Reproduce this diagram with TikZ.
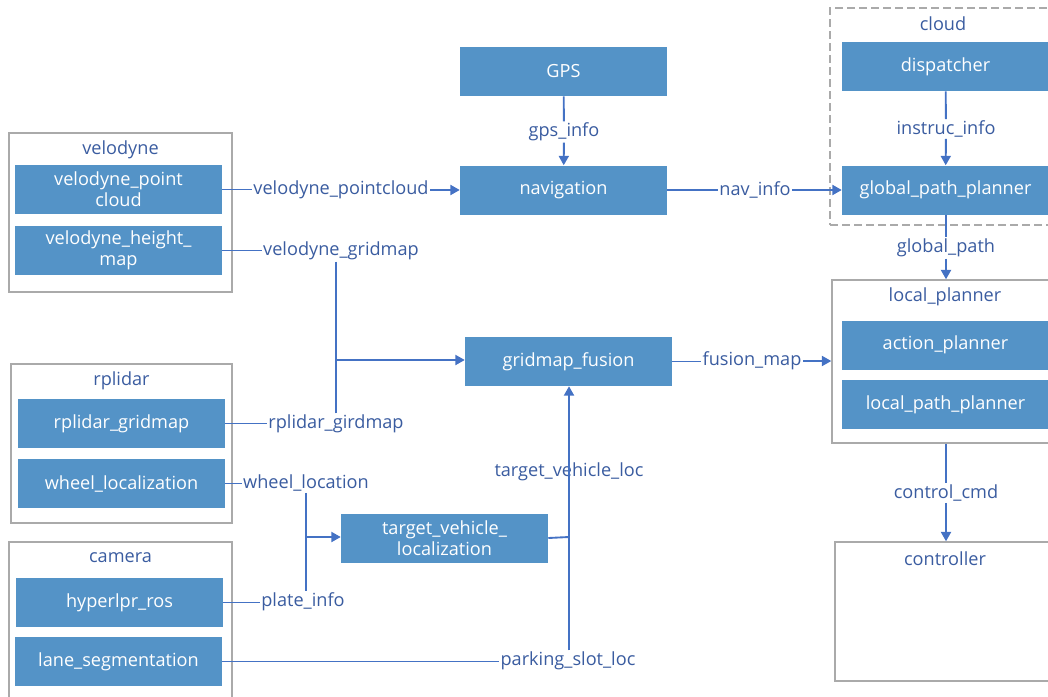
\documentclass[tikz,border=0pt]{standalone}
\usepackage{fontspec}
\setmainfont{Open Sans}
\usetikzlibrary{arrows.meta}
\definecolor{boxblue}{RGB}{84,147,199}
\definecolor{linkblue}{RGB}{68,114,196}
\definecolor{labelblue}{RGB}{58,92,160}
\definecolor{framegray}{RGB}{170,170,170}
\begin{document}
\begin{tikzpicture}[x=0.75pt,y=-0.75pt,
  txt/.style={font=\fontsize{13.6}{15}\selectfont},
  box/.style={txt, rectangle, fill=boxblue, text=white, align=center,
    minimum width=155.25pt, minimum height=36.75pt, inner sep=0pt},
  group/.style={rectangle, draw=framegray, line width=1.1pt, inner sep=0pt},
  title/.style={txt, text=labelblue, inner sep=1pt},
  lab/.style={txt, text=labelblue, fill=white, inner sep=1pt},
  link/.style={draw=linkblue, line width=1.4pt},
  arr/.style={link, -{Triangle[length=7pt,width=7.5pt]}}]
\useasboundingbox (0,0) rectangle (1048,696);
\clip (0,0) rectangle (1048,696);

% sensor groups
\node[group, minimum width=167.25pt, minimum height=119.25pt] (gvel) at (120.5,212.5) {};
\node[title] (tvel) at (120.5,150) {velodyne};
\node[group, minimum width=165.75pt, minimum height=119.25pt] (grp) at (121.5,443.5) {};
\node[title] (trp) at (121.5,381) {rplidar};
\node[group, minimum width=167.25pt, minimum height=121.5pt] (gcam) at (120.5,623) {};
\node[title] (tcam) at (120.5,558) {camera};

% planning groups
\node[group, dashed, dash pattern=on 6pt off 3pt, minimum width=171pt, minimum height=162.75pt] (gcloud) at (944,116.5) {};
\node[title] (tcloud) at (943,24) {cloud};
\node[group, minimum width=169.5pt, minimum height=122.25pt] (lp) at (945,361.5) {};
\node[title] (tlp) at (945,297) {local\_planner};
\node[group, minimum width=167.25pt, minimum height=104.25pt] (ctrl) at (946.5,611.5) {};
\node[title] (tctrl) at (945,559) {controller};

% processing blocks
\node[box] (vpc) at (118.5,189.5) {velodyne\_point\\[1pt]cloud};
\node[box] (vhm) at (118.5,250.5) {velodyne\_height\_\\[1pt]map};
\node[box] (rgm) at (121.5,423.5) {rplidar\_gridmap};
\node[box] (wl) at (121.5,483.5) {wheel\_localization};
\node[box] (hyp) at (119.5,602.5) {hyperlpr\_ros};
\node[box] (lane) at (118.5,661.5) {lane\_segmentation};
\node[box] (gps) at (563.5,71.5) {GPS};
\node[box] (nav) at (563.5,190) {navigation};
\node[box] (fus) at (568.5,361.5) {gridmap\_fusion};
\node[box] (tvl) at (444.5,538) {target\_vehicle\_\\[1pt]localization};
\node[box] (disp) at (945.5,66.5) {dispatcher};
\node[box] (gpp) at (945.5,190) {global\_path\_planner};
\node[box] (act) at (945.5,345) {action\_planner};
\node[box] (lpp) at (945.5,404.5) {local\_path\_planner};

% topic labels
\node[lab] (gpsinfo) at (564,132) {gps\_info};
\node[lab] (vpclab) at (341,190) {velodyne\_pointcloud};
\node[lab] (navlab) at (755,190) {nav\_info};
\node[lab] (inslab) at (946,129) {instruc\_info};
\node[lab] (gplab) at (946,248) {global\_path};
\node[lab] (cclab) at (946,493) {control\_cmd};
\node[lab] (fmlab) at (752,361) {fusion\_map};
\node[lab] (vglab) at (341,251) {velodyne\_gridmap};
\node[lab] (rglab) at (336,424) {rplidar\_girdmap};
\node[lab] (wllab) at (306,483) {wheel\_location};
\node[lab] (pilab) at (303,602) {plate\_info};
\node[lab] (pslab) at (568,661) {parking\_slot\_loc};

\coordinate (J) at (336,360);
\coordinate (K) at (306,537);
\coordinate (M) at (569,537);

% connectors
\draw[link] (gps) -- (gpsinfo);
\draw[arr] (gpsinfo) -- (nav);
\draw[link] (vpc.east) -- (vpc.east -| vpclab.west);
\draw[arr] (vpclab.east) -- (vpclab.east -| nav.west);
\draw[link] (nav.east) -- (nav.east -| navlab.west);
\draw[arr] (navlab.east) -- (navlab.east -| gpp.west);
\draw[link] (disp) -- (inslab);
\draw[arr] (inslab) -- (gpp);
\draw[link] (gpp.south -| gplab) -- (gplab);
\draw[arr] (gplab) -- (gplab |- lp.north);
\draw[link] (cclab |- lp.south) -- (cclab);
\draw[arr] (cclab) -- (cclab |- ctrl.north);
\draw[link] (fus.east) -- (fus.east -| fmlab.west);
\draw[arr] (fmlab.east) -- (fmlab.east -| lp.west);

\draw[link] (vhm.east) -- (vhm.east -| vglab.west);
\draw[link] (J |- vglab.south) -- (J);
\draw[link] (rglab.north) -- (J);
\draw[arr] (J) -- (J -| fus.west);
\draw[link] (rgm.east) -- (rgm.east -| rglab.west);

\draw[link] (wl.east) -- (wl.east -| wllab.west);
\draw[link] (hyp.east) -- (hyp.east -| pilab.west);
\draw[link] (K |- wllab.south) -- (K |- pilab.north);
\draw[arr] (K) -- (K -| tvl.west);

\draw[link] (lane.east) -- (lane.east -| pslab.west);
\draw[link] (tvl.east) -- (M);
\node[txt, text=labelblue, inner sep=1pt] (tvlab) at (569,472) {target\_vehicle\_loc};
\draw[arr] (M |- pslab.north) -- (M |- fus.south);
\end{tikzpicture}
\end{document}
